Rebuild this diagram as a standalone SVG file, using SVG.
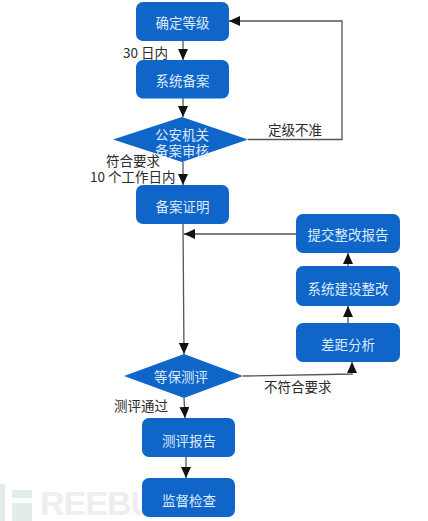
<svg xmlns="http://www.w3.org/2000/svg" width="428" height="521" viewBox="0 0 428 521">
<defs>
<marker id="a" markerUnits="userSpaceOnUse" markerWidth="12" markerHeight="10" refX="11" refY="5" orient="auto"><path d="M0 0L11 5L0 10Z" fill="#111"/></marker>
</defs>
<style>
.n{fill:#0f65c8}
.t{font:13.500px "Noto Sans CJK SC","Liberation Sans",sans-serif;fill:#dcebfa;text-anchor:middle}
.l{font:13.500px "Noto Sans CJK SC","Liberation Sans",sans-serif;fill:#2a2a2a}
.c{fill:none;stroke:#555;stroke-width:1.3;marker-end:url(#a)}
.wm{fill:#e2ecea}
</style>
<rect width="428" height="521" fill="#fff"/>
<g id="watermark">
<rect class="wm" x="0" y="484" width="5" height="37"/>
<rect class="wm" x="12" y="490" width="20" height="8"/>
<rect class="wm" x="12" y="503" width="20" height="18"/>
<text x="40" y="515" style="font:700 34px 'Liberation Sans',sans-serif;fill:#ecefee;letter-spacing:-1px">REEBU</text>
</g>
<g id="connectors">
<path class="c" d="M183 41V60"/>
<path class="c" d="M183 98V117"/>
<path class="c" d="M248 139.500H342V21H229"/>
<path class="c" d="M183 162V185"/>
<path class="c" d="M296 234H184"/>
<path class="c" d="M183 224L184 354"/>
<path class="c" d="M243 376L352 374V362"/>
<path class="c" d="M348 323V306"/>
<path class="c" d="M348 266V253"/>
<path class="c" d="M184 398L185 418"/>
<path class="c" d="M186 457V478"/>
</g>
<g id="n1"><rect class="n" x="136" y="2" width="93" height="39" rx="7"/><text class="t" x="182.500" y="28">确定等级</text></g>
<g id="n2"><rect class="n" x="136" y="60" width="93" height="38.500" rx="7"/><text class="t" x="182.500" y="86">系统备案</text></g>
<g id="n3"><path class="n" d="M113 139.500L182 117L248 139.500L182 162Z"/><text class="t" x="182" y="140">公安机关</text><text class="t" x="182" y="156">备案审核</text></g>
<g id="n4"><rect class="n" x="136" y="185" width="93" height="39" rx="7"/><text class="t" x="182.500" y="212">备案证明</text></g>
<g id="n5"><rect class="n" x="296" y="214" width="104" height="39" rx="7"/><text class="t" x="348" y="240">提交整改报告</text></g>
<g id="n6"><rect class="n" x="296" y="266" width="104" height="40" rx="7"/><text class="t" x="348" y="294">系统建设整改</text></g>
<g id="n7"><rect class="n" x="296" y="323" width="104" height="39" rx="7"/><text class="t" x="348" y="350">差距分析</text></g>
<g id="n8"><path class="n" d="M124 376L184 354L243 376L184 398Z"/><text class="t" x="181" y="382">等保测评</text></g>
<g id="n9"><rect class="n" x="142" y="418" width="93" height="39" rx="7"/><text class="t" x="189" y="446">测评报告</text></g>
<g id="n10"><rect class="n" x="142" y="478" width="93" height="39" rx="7"/><text class="t" x="189" y="506">监督检查</text></g>
<g id="labels">
<text class="l" x="123" y="58">30 日内</text>
<text class="l" x="268" y="135">定级不准</text>
<text class="l" x="106" y="166">符合要求</text>
<text class="l" x="90" y="182">10 个工作日内</text>
<text class="l" x="264" y="392">不符合要求</text>
<text class="l" x="114" y="411">测评通过</text>
</g>
</svg>
